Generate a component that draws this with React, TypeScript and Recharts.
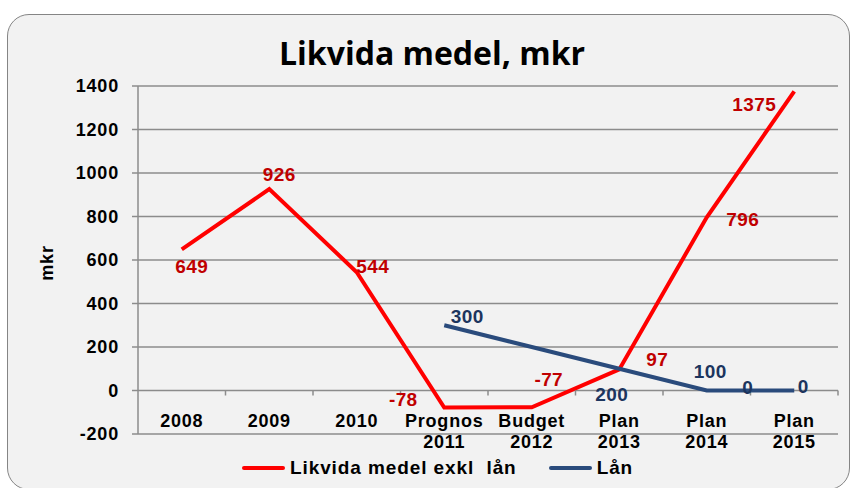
import {
  LineChart,
  Line,
  XAxis,
  YAxis,
  CartesianGrid,
  Legend,
  LabelList,
} from "recharts";

const categories = [
  "2008",
  "2009",
  "2010",
  "Prognos\n2011",
  "Budget\n2012",
  "Plan\n2013",
  "Plan\n2014",
  "Plan\n2015",
];
const likvida = [649, 926, 544, -78, -77, 97, 796, 1375];
const lan = [null, null, null, 300, 200, 100, 0, 0];
const yTicks = [-200, 0, 200, 400, 600, 800, 1000, 1200, 1400];

const seriesNames = ["Likvida medel exkl  lån", "Lån"];
const lineColors = ["#ff0000", "#2a4b7c"];
const labelColors = ["#c00000", "#1c355e"];

// label nudges (dx, dy) per point, as placed in the original
const redLabelPos = [
  [10, 17], [10, -15], [16, -6], [-41, -8], [17, -28], [38, -10], [36, 2], [-40, 13],
];
const blueLabelPos = [
  [0, 0], [0, 0], [0, 0], [23, -9], [80, 47], [91, 3], [41, -3], [9, -4],
];

const data = categories.map((cat, i) => ({
  cat,
  likvida: likvida[i],
  lan: lan[i],
}));

const FONT = "'Liberation Sans', Arial, sans-serif";
const GRID = "#8c8c8c";
const HALF_BAND = 43.75;

function XTick(props: any) {
  const { x, y, payload } = props;
  const lines = String(payload.value).split("\n");
  return (
    <g>
      <line x1={x + HALF_BAND} x2={x + HALF_BAND} y1={y - 43.5} y2={y - 38.5} stroke={GRID} strokeWidth={1.5} />
      <text
        x={x}
        y={y - 7}
        textAnchor="middle"
        fill="#000"
        fontSize={18}
        fontWeight={700}
        fontFamily={FONT}
        letterSpacing={0.8}
      >
        {lines.map((l, i) => (
          <tspan key={i} x={x} dy={i === 0 ? 0 : 21}>
            {l}
          </tspan>
        ))}
      </text>
    </g>
  );
}

const makeLabel = (pos: number[][], color: string) => (props: any) => {
  const { value, index } = props;
  if (value === null || value === undefined) return null;
  const x = props.x ?? props.viewBox?.x;
  const y = props.y ?? props.viewBox?.y;
  const [dx, dy] = pos[index] || [0, 0];
  return (
    <text
      x={x + dx}
      y={y + dy}
      fill={color}
      textAnchor="middle"
      dominantBaseline="central"
      fontSize={19}
      fontWeight={700}
      fontFamily={FONT}
      letterSpacing={0.4}
    >
      {value}
    </text>
  );
};

function LegendBox() {
  return (
    <div
      style={{
        height: 24,
        display: "flex",
        alignItems: "center",
        paddingLeft: 242,
        gap: 32,
        fontFamily: FONT,
        fontWeight: 700,
        fontSize: 19,
        letterSpacing: 0.9,
        color: "#000",
        whiteSpace: "pre",
      }}
    >
      {seriesNames.map((name, i) => (
        <div key={name} style={{ display: "flex", alignItems: "center", gap: 5 }}>
          <div style={{ width: 43, height: 4, borderRadius: 2, background: lineColors[i] }} />
          <span>{name}</span>
        </div>
      ))}
    </div>
  );
}

export default function App() {
  return (
    <div
      style={{
        position: "fixed",
        left: 0,
        top: 0,
        width: 853,
        height: 488,
        background: "#fff",
        overflow: "hidden",
      }}
    >
      <div
        style={{
          position: "absolute",
          left: 7,
          top: 14,
          width: 843,
          height: 476,
          boxSizing: "border-box",
          border: "1.5px solid #858585",
          borderRadius: 22,
          background: "#f2f2f2",
        }}
      />
      <div
        style={{
          position: "absolute",
          left: 0,
          top: 37,
          width: 864,
          textAlign: "center",
          fontFamily: "'Open Sans', sans-serif",
          fontWeight: 700,
          fontSize: 32,
          lineHeight: "32px",
          color: "#000",
        }}
      >
        Likvida medel, mkr
      </div>
      <div
        style={{
          position: "absolute",
          left: 47,
          top: 263,
          transform: "translate(-50%, -50%) rotate(-90deg)",
          fontFamily: FONT,
          fontWeight: 700,
          fontSize: 18,
          letterSpacing: 0.8,
          color: "#000",
        }}
      >
        mkr
      </div>
      <div style={{ position: "absolute", left: 0, top: 0 }}>
        <LineChart width={853} height={488} data={data} margin={{ top: 86, right: 15, bottom: 0, left: 78 }}>
          <CartesianGrid vertical={false} stroke={GRID} strokeWidth={1.5} />
          <XAxis
            dataKey="cat"
            interval={0}
            padding={{ left: HALF_BAND, right: HALF_BAND }}
            axisLine={false}
            tickLine={false}
            tickSize={0}
            tickMargin={0}
            height={30}
            tick={<XTick />}
          />
          <YAxis
            width={60}
            domain={[-200, 1400]}
            ticks={yTicks}
            interval={0}
            axisLine={{ stroke: GRID, strokeWidth: 1.5 }}
            tickLine={{ stroke: GRID, strokeWidth: 1.5 }}
            tickSize={6}
            tickMargin={13}
            tick={{ fill: "#000", fontSize: 18, fontWeight: 700, fontFamily: FONT, letterSpacing: 0.8 }}
          />
          <Legend
            verticalAlign="bottom"
            content={<LegendBox />}
            wrapperStyle={{ top: 456, left: 0, width: 853 }}
          />
          <Line
            dataKey="likvida"
            stroke={lineColors[0]}
            strokeWidth={4}
            dot={false}
            activeDot={false}
            isAnimationActive={false}
          >
            <LabelList dataKey="likvida" content={makeLabel(redLabelPos, labelColors[0])} />
          </Line>
          <Line
            dataKey="lan"
            stroke={lineColors[1]}
            strokeWidth={4}
            dot={false}
            activeDot={false}
            isAnimationActive={false}
          >
            <LabelList dataKey="lan" content={makeLabel(blueLabelPos, labelColors[1])} />
          </Line>
        </LineChart>
      </div>
    </div>
  );
}
